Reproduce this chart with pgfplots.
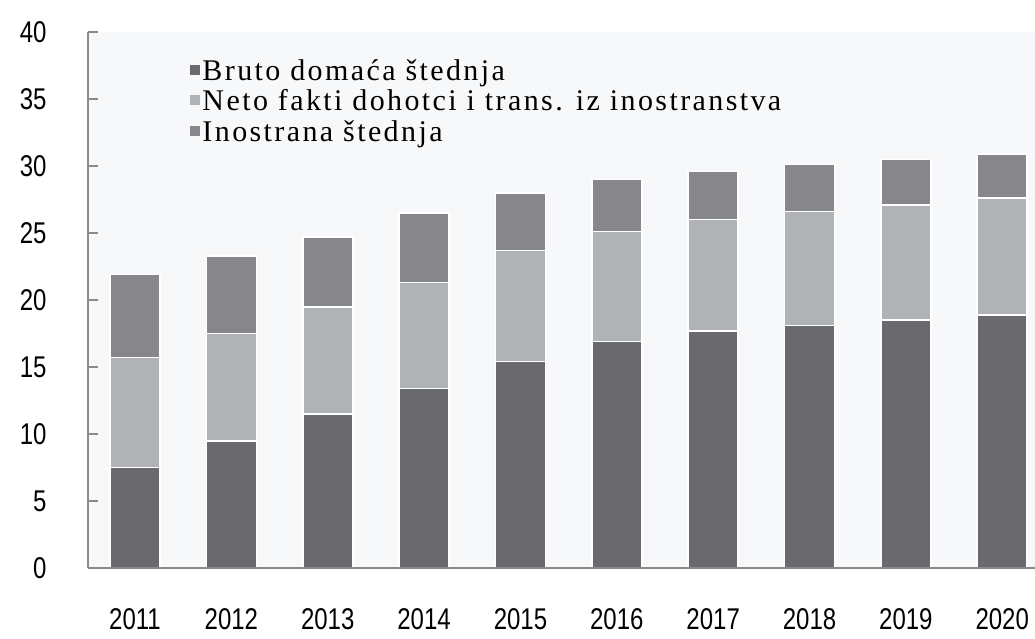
\documentclass[border=0pt]{standalone}
\usepackage{pgfplots}
\pgfplotsset{compat=1.18}
\usepackage{fontspec}
\setmainfont{Liberation Serif}
\newfontfamily\legfont[LetterSpace=8]{Liberation Serif}
\newfontfamily\tickfont[FakeStretch=0.8]{Liberation Sans}
\definecolor{cdark}{HTML}{6A6A6E}
\definecolor{clight}{HTML}{B0B3B6}
\definecolor{cmed}{HTML}{86868B}
\definecolor{bgc}{HTML}{F7F8F9}
\definecolor{axc}{HTML}{8A8A8A}
\begin{document}
\begin{tikzpicture}[x=1pt,y=1pt]
\useasboundingbox (0,0) rectangle (1035,638);
\begin{axis}[
  at={(88pt,70pt)}, anchor=south west,
  scale only axis, width=947pt, height=536pt,
  xmin=-0.488, xmax=9.34, ymin=0, ymax=40,
  ybar stacked, bar width=50pt,
  axis lines*=left, axis on top,
  axis line style={axc, line width=1.2pt},
  axis background/.style={fill=bgc},
  xtick={0,...,9},
  xticklabels={2011,2012,2013,2014,2015,2016,2017,2018,2019,2020},
  x tick style={draw=none},
  ytick={0,5,...,40},
  y tick style={axc, line width=1.2pt},
  tick align=inside, major tick length=10pt,
  /pgf/number format/assume math mode=true,
  tick label style={font=\tickfont\fontsize{30}{30}\selectfont, black},
  yticklabel style={xshift=-38pt},
  xticklabel style={yshift=-37pt},
  clip=false,
  legend style={at={(0.108,0.953)}, anchor=north west, draw=none, fill=none,
    font=\legfont\fontsize{30}{30}\selectfont, row sep=4pt, inner sep=0pt,
    /tikz/every even column/.append style={column sep=4pt}},
  legend cell align=left,
  legend image code/.code={\fill[#1,draw=none] (0pt,-4pt) rectangle (10pt,6pt);},
  every axis plot/.append style={draw=white, line width=1.6pt},
]
\addplot[fill=cdark] coordinates {(0,7.5) (1,9.5) (2,11.5) (3,13.4) (4,15.4) (5,16.9) (6,17.7) (7,18.1) (8,18.5) (9,18.9)};
\addplot[fill=clight] coordinates {(0,8.2) (1,8.0) (2,8.0) (3,7.9) (4,8.3) (5,8.2) (6,8.3) (7,8.5) (8,8.6) (9,8.7)};
\addplot[fill=cmed] coordinates {(0,6.2) (1,5.8) (2,5.2) (3,5.2) (4,4.3) (5,3.9) (6,3.6) (7,3.5) (8,3.4) (9,3.3)};
\legend{Bruto domaća štednja, Neto fakti dohotci i trans. iz inostranstva, Inostrana štednja}
\end{axis}
\end{tikzpicture}
\end{document}
